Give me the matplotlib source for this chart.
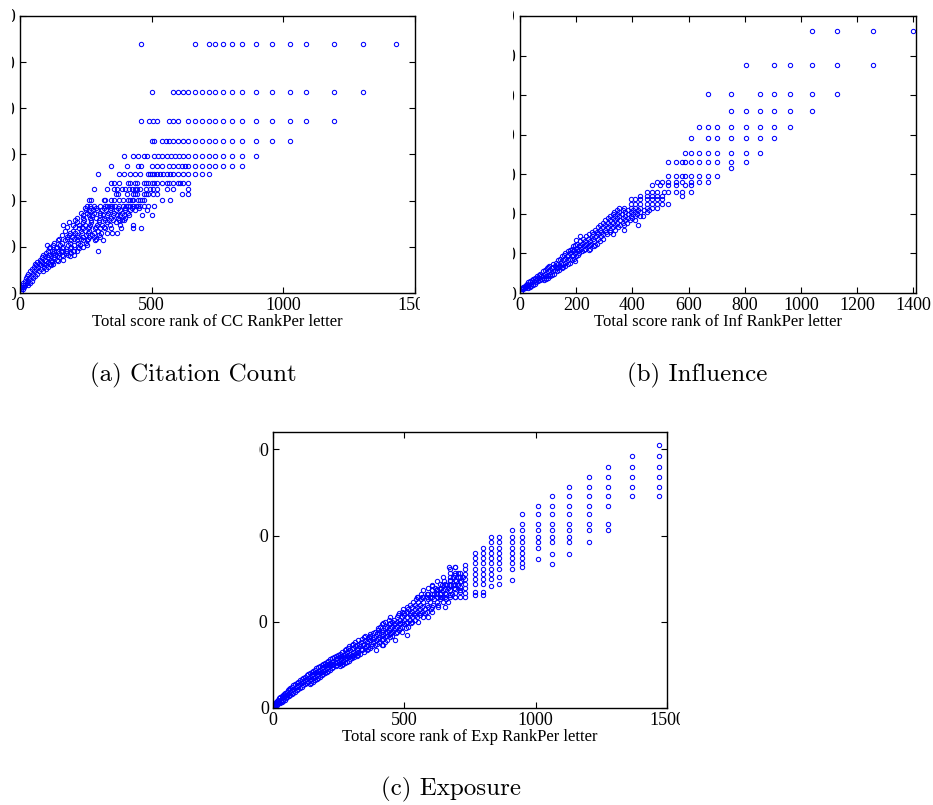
import matplotlib
matplotlib.use("Agg")
import matplotlib.pyplot as plt
from matplotlib.patches import Rectangle

# (a) Citation Count: rows of equal y, listing x values
cc_rows = [
    (539, [458, 665, 716, 742, 772, 804, 844, 896, 958, 1024, 1087, 1194, 1301, 1429]),
    (435, [500, 581, 601, 619, 639, 665, 691, 716, 742, 772, 804, 844, 896, 958, 1024, 1087, 1194, 1301]),
    (373, [458, 489, 505, 519, 566, 581, 601, 637, 665, 691, 716, 742, 772, 804, 844, 896, 958, 1024, 1087, 1194]),
    (330, [500, 509, 540, 553, 566, 581, 601, 619, 639, 665, 691, 716, 742, 772, 804, 844, 896, 958, 1024]),
    (297, [396, 428, 447, 471, 482, 509, 523, 540, 557, 573, 589, 604, 619, 639, 665, 691, 716, 742, 772, 804, 844, 896]),
    (276, [344, 406, 447, 459, 500, 519, 540, 566, 581, 601, 615, 628, 639, 665, 691, 716, 742, 772, 804, 844]),
    (257, [295, 376, 396, 418, 437, 457, 485, 494, 501, 510, 519, 532, 543, 557, 571, 581, 601, 619, 639, 665, 691, 716]),
    (238, [344, 356, 376, 411, 416, 437, 444, 471, 477, 485, 501, 509, 519, 540, 557, 566, 581, 601, 609, 619, 637]),
    (226, [280, 332, 356, 367, 386, 400, 414, 424, 437, 444, 457, 477, 492, 505, 519, 557, 581, 637]),
    (214, [366, 373, 406, 429, 437, 444, 471, 477, 485, 505, 519, 615, 637]),
    (202, [261, 270, 318, 324, 344, 358, 376, 391, 409, 416, 424, 430, 447, 456, 465, 471, 540, 568]),
    (189, [256, 265, 280, 304, 324, 330, 342, 351, 359, 376, 391, 401, 409, 416, 429, 440, 449, 457, 471, 487, 509]),
    (185, [245, 270, 290, 320, 345, 372, 398, 425, 450]),
    (179, [252, 262, 277, 292, 310, 327, 343, 363, 381, 399, 419, 437, 482]),
    (174, [230, 255, 282, 305, 335, 358, 388, 410]),
    (168, [238, 261, 273, 303, 315, 332, 352, 367, 381, 395, 414, 463, 500]),
    (163, [215, 240, 265, 290, 318, 345, 372, 400]),
    (158, [210, 244, 271, 299, 324, 338, 353, 376, 389, 396]),
    (153, [185, 215, 240, 270, 300, 330, 365]),
    (147, [162, 200, 224, 248, 266, 291, 313, 342, 378, 428]),
    (143, [180, 210, 235, 262, 290, 318]),
    (140, [224, 240, 258, 285, 304, 323, 344, 384, 428, 458]),
    (135, [170, 200, 230, 262, 295]),
    (131, [190, 210, 237, 257, 282, 306, 332, 349, 367]),
    (126, [160, 185, 215, 250, 275, 300]),
    (122, [177, 197, 219, 240, 263, 281, 304]),
    (118, [150, 180, 205, 230, 260, 290]),
    (114, [144, 172, 194, 215, 239, 256, 284, 316]),
    (109, [130, 160, 190, 220, 250]),
    (103, [103, 127, 152, 181, 205, 228, 253]),
    (100, [115, 140, 165, 195, 220, 240]),
    (97, [110, 135, 160, 190, 225]),
    (92, [120, 146, 173, 201, 215, 295]),
    (90, [105, 130, 155, 180, 205]),
    (87, [100, 125, 150, 175, 195]),
    (82, [89, 111, 133, 158, 184, 205]),
    (80, [95, 118, 140, 165, 190]),
    (77, [85, 105, 128, 150]),
    (72, [76, 95, 116, 139, 165]),
    (70, [80, 100, 122, 145]),
    (67, [65, 85, 105, 122]),
    (62, [57, 73, 92, 114, 127]),
    (60, [62, 80, 100, 118]),
    (57, [52, 70, 90, 108]),
    (52, [44, 61, 78, 99]),
    (47, [38, 55, 72, 88]),
    (42, [32, 48, 66]),
    (37, [28, 42, 58]),
    (32, [23, 35, 51]),
    (27, [18, 30, 44]),
    (22, [13, 25, 38]),
    (17, [10, 20, 30]),
    (12, [6, 15]),
    (8, [4, 10]),
    (4, [3]),
]

# (b) Influence
inf_rows = [
    (663, [1039, 1130, 1256, 1401]),
    (576, [805, 905, 963, 1039, 1130, 1256]),
    (503, [668, 753, 855, 905, 963, 1039, 1130]),
    (459, [753, 805, 855, 905, 963, 1039]),
    (420, [639, 668, 703, 753, 805, 855, 905, 963]),
    (392, [609, 668, 703, 753, 805, 855, 905]),
    (354, [588, 609, 639, 668, 703, 753, 805, 855]),
    (330, [528, 556, 576, 588, 609, 639, 668, 703, 753, 805]),
    (315, [753]),
    (296, [528, 556, 576, 588, 609, 639, 668, 703]),
    (281, [487, 505, 528, 556, 576, 609, 639, 668]),
    (272, [469, 499, 528, 556, 588, 609]),
    (255, [451, 469, 487, 511, 528, 556, 576, 609]),
    (244, [427, 451, 469, 487, 505, 576]),
    (237, [395, 410, 427, 451, 469, 487, 505]),
    (226, [395, 410, 427, 451, 469, 487, 505, 528]),
    (216, [354, 372, 395, 410, 427, 451, 469, 487]),
    (210, [345, 365, 385, 402, 420, 440, 460]),
    (204, [336, 354, 374, 395, 410, 427, 451]),
    (199, [330, 346, 364, 385, 402, 418]),
    (194, [321, 338, 354, 374, 395, 410, 427, 437]),
    (189, [312, 330, 346, 365, 383, 400]),
    (184, [304, 321, 338, 356, 374, 392, 410]),
    (178, [295, 312, 330, 347, 365, 382]),
    (173, [285, 303, 321, 338, 356, 372, 419]),
    (167, [276, 294, 312, 330, 348]),
    (160, [267, 285, 303, 321, 338, 370]),
    (155, [256, 273, 290, 305, 322]),
    (150, [245, 261, 279, 297, 311, 332]),
    (143, [215, 235, 255, 272, 290]),
    (137, [226, 243, 261, 279, 297]),
    (133, [199]),
    (131, [212, 230, 248, 265, 285]),
    (125, [202, 220, 235, 252, 273]),
    (121, [196, 214, 230, 248, 266]),
    (118, [190, 210, 228, 245, 262]),
    (112, [184, 202, 217, 233, 249]),
    (109, [177, 194, 210, 228, 245]),
    (106, [170, 188, 205, 222]),
    (100, [160, 178, 196, 211]),
    (97, [155, 172, 190, 206]),
    (93, [150, 168, 186, 200]),
    (87, [142, 160, 178, 192]),
    (84, [137, 154, 170, 186]),
    (80, [195]),
    (77, [128, 145, 162, 178]),
    (74, [119, 137, 154, 172]),
    (68, [105, 125, 143, 160]),
    (65, [100, 118, 136, 152]),
    (62, [95, 113, 131, 148]),
    (58, [90, 106, 124, 140]),
    (55, [83, 100, 118, 133]),
    (49, [71, 89, 107, 121]),
    (46, [66, 82, 98, 114]),
    (42, [60, 76, 92, 106]),
    (39, [54, 68, 84, 100]),
    (36, [47, 62, 77, 93]),
    (33, [42, 56, 70, 86]),
    (30, [36, 50, 65]),
    (27, [30, 44, 58]),
    (24, [26, 38, 53]),
    (21, [22, 32, 46]),
    (18, [17, 28, 40]),
    (15, [12, 22, 34]),
    (13, [9, 19, 28]),
    (9, [5, 12]),
    (5, [2]),
]

# (c) Exposure: upper part as columns of equal x, lower band as rows
exp_cols = [
    (1468, [1522, 1458, 1398, 1337, 1282, 1230]),
    (1365, [1458, 1398, 1337, 1282, 1230]),
    (1277, [1398, 1337, 1282, 1230, 1172, 1066, 1031]),
    (1203, [1337, 1282, 1230, 1172, 1124, 1066, 1031, 962]),
    (1127, [1282, 1230, 1172, 1124, 1066, 1031, 993, 962, 894]),
    (1063, [1230, 1172, 1124, 1066, 1031, 993, 962, 894, 836]),
    (1009, [1172, 1124, 1066, 1031, 993, 962, 929, 863]),
    (949, [1124, 1066, 1031, 993, 962, 929, 896, 867, 838, 819]),
    (911, [1031, 993, 962, 929, 896, 867, 838, 803, 742]),
    (862, [993, 962, 929, 896, 867, 838, 803, 761, 717]),
    (830, [993, 962, 929, 896, 867, 838, 803, 775, 746, 707]),
    (798, [929, 896, 867, 838, 803, 775, 746, 717, 674, 655]),
    (768, [896, 867, 838, 803, 775, 746, 717, 674, 655]),
    (730, [829, 803, 775, 746, 717, 694, 665, 641]),
    (712, [784, 761, 732, 703, 674, 645]),
    (693, [819, 771, 742, 713, 688, 665, 641]),
    (674, [803, 742, 713, 684, 655]),
    (654, [719, 688, 665, 641]),
    (636, [719, 690, 661, 641]),
    (623, [688, 661]),
    (604, [709, 684, 661, 641]),
    (585, [661, 641]),
    (566, [645]),
    (547, [641]),
]
exp_rows = [
    (819, [670, 693]),
    (780, [674, 693, 706]),
    (761, [648, 674, 687, 706, 725]),
    (735, [625, 650, 672, 695, 715]),
    (711, [604, 642, 661, 687, 706]),
    (698, [590, 615, 640, 665, 690]),
    (684, [572, 604, 623, 648, 674, 712]),
    (660, [565, 590, 612, 635, 660, 680]),
    (645, [553, 572, 598, 623, 642, 674, 693]),
    (630, [545, 565, 590, 612, 635, 660]),
    (616, [534, 553, 572, 598, 623, 648, 667]),
    (600, [520, 540, 560, 585, 610, 630]),
    (587, [509, 528, 547, 566, 591, 604, 629, 655]),
    (572, [495, 515, 540, 560, 580, 600]),
    (558, [490, 509, 528, 547, 566, 585, 604]),
    (548, [480, 500, 520, 540, 560, 578]),
    (538, [475, 500, 520, 540, 560]),
    (525, [445, 471, 490, 509, 528, 547, 572, 591]),
    (512, [440, 462, 482, 500, 520, 540]),
    (500, [426, 452, 471, 490, 509, 528, 553]),
    (492, [420, 445, 465, 485, 505, 525]),
    (485, [415, 440, 462, 482, 500]),
    (471, [407, 433, 452, 471, 490, 515]),
    (463, [400, 425, 445, 465, 485, 505]),
    (455, [398, 420, 440, 460, 480]),
    (442, [388, 414, 433, 452, 471, 490]),
    (436, [380, 405, 425, 448, 468]),
    (430, [370, 395, 420, 445]),
    (423, [509]),
    (417, [350, 369, 392, 414, 433, 452]),
    (409, [345, 365, 385, 405, 425, 445]),
    (402, [340, 360, 380, 400, 420]),
    (394, [325, 350, 369, 392, 414, 433, 464]),
    (380, [312, 335, 358, 380, 402, 428]),
    (372, [305, 326, 348, 372, 395]),
    (365, [299, 319, 344, 363, 388, 414, 420]),
    (357, [290, 312, 332, 355, 378]),
    (350, [285, 305, 325, 350, 370]),
    (343, [278, 300, 320, 340, 362]),
    (336, [274, 293, 319, 338, 357, 392]),
    (325, [262, 283, 305, 325, 345]),
    (313, [255, 274, 293, 312, 331]),
    (306, [248, 268, 286, 306, 324]),
    (300, [240, 260, 280, 300, 318]),
    (294, [232, 252, 270, 290, 310]),
    (288, [223, 242, 261, 280, 299]),
    (282, [218, 238, 258, 276, 294]),
    (275, [210, 230, 250, 268, 290]),
    (269, [205, 224, 244, 262, 282]),
    (263, [198, 217, 236, 255, 274]),
    (256, [192, 212, 230, 250, 268]),
    (250, [185, 205, 224, 243, 262]),
    (243, [178, 198, 218, 238, 256]),
    (236, [173, 192, 211, 230]),
    (229, [165, 186, 205, 224]),
    (223, [160, 180, 198, 218]),
    (216, [152, 172, 192, 210]),
    (210, [147, 166, 185, 204]),
    (203, [140, 160, 178, 198]),
    (196, [135, 154, 172, 192]),
    (189, [128, 148, 168, 186]),
    (182, [122, 141, 160, 179]),
    (175, [116, 134, 152, 172]),
    (168, [110, 128, 146, 166]),
    (160, [103, 122, 140, 160]),
    (153, [96, 115, 135, 154]),
    (146, [90, 108, 128, 146]),
    (139, [85, 102, 122, 140]),
    (131, [78, 96, 115]),
    (124, [71, 90, 109]),
    (117, [66, 84, 102]),
    (110, [62, 78, 96]),
    (102, [56, 72, 90]),
    (95, [52, 67, 84]),
    (88, [46, 62, 78]),
    (82, [42, 56, 72]),
    (76, [38, 52, 66]),
    (70, [33, 46, 62]),
    (63, [28, 40, 55]),
    (56, [24, 36, 50]),
    (49, [20, 32, 44]),
    (42, [16, 29, 39]),
    (36, [12, 24, 34]),
    (30, [10, 20, 28]),
    (24, [8, 16]),
    (19, [6, 14]),
    (12, [3, 9]),
    (4, [1]),
]

xlabels = ["Total score rank of CC RankPer letter",
           "Total score rank of Inf RankPer letter",
           "Total score rank of Exp RankPer letter"]
captions = ["(a) Citation Count", "(b) Influence", "(c) Exposure"]

W, H = 933, 805
plt.rcParams["font.family"] = ["Liberation Serif", "DejaVu Serif"]


def rows_to_xy(rows):
    xs, ys = [], []
    for y, row in rows:
        xs += row
        ys += [y] * len(row)
    return xs, ys


def cols_to_xy(cols):
    xs, ys = [], []
    for x, col in cols:
        xs += [x] * len(col)
        ys += col
    return xs, ys


def box(left, top, right, bottom):
    # pixel box -> figure fraction
    return [left / W, 1 - bottom / H, (right - left) / W, (bottom - top) / H]


def style(ax, xlabel):
    ax.tick_params(direction="in", top=True, right=True, length=4, width=0.8,
                   labelsize=13, pad=3)
    for s in ax.spines.values():
        s.set_linewidth(1.0)
    ax.set_xlabel(xlabel, fontsize=12, labelpad=0)


def scatter(ax, x, y):
    ax.plot(x, y, "o", ls="none", mfc="none", mec="#0000ff", ms=3.1, mew=0.75)


fig = plt.figure(figsize=(W / 100, H / 100), dpi=100)

ax1 = fig.add_axes(box(20, 16, 415, 293))
scatter(ax1, *rows_to_xy(cc_rows))
ax1.set_xlim(0, 1500)
ax1.set_ylim(0, 600)
ax1.set_xticks([0, 500, 1000, 1500])
ax1.set_yticks(range(0, 601, 100))
style(ax1, xlabels[0])

ax2 = fig.add_axes(box(520, 16, 916, 293))
scatter(ax2, *rows_to_xy(inf_rows))
ax2.set_xlim(0, 1410)
ax2.set_ylim(0, 700)
ax2.set_xticks(range(0, 1401, 200))
ax2.set_yticks(range(0, 701, 100))
style(ax2, xlabels[1])

ax3 = fig.add_axes(box(273, 432, 667, 708))
cx, cy = cols_to_xy(exp_cols)
rx, ry = rows_to_xy(exp_rows)
scatter(ax3, cx + rx, cy + ry)
ax3.set_xlim(0, 1500)
ax3.set_ylim(0, 1600)
ax3.set_xticks([0, 500, 1000, 1500])
ax3.set_yticks([0, 500, 1000, 1500])
style(ax3, xlabels[2])

# sub-figures were cropped: hide the cut-off parts of the tick labels
for l, t, r, b in [(0, 0, 12, 330), (420, 0, 513, 330), (0, 420, 259, 730), (680, 420, W, 730)]:
    fig.add_artist(Rectangle((l / W, 1 - b / H), (r - l) / W, (b - t) / H,
                             transform=fig.transFigure, facecolor="white",
                             edgecolor="none", zorder=10))

for (cx_, cy_), text in zip([(193, 375), (697, 375), (451, 789)], captions):
    fig.text(cx_ / W, 1 - cy_ / H, text, ha="center", va="center",
             family="cmr10", fontsize=18)

fig.savefig("out.png", dpi=100)
